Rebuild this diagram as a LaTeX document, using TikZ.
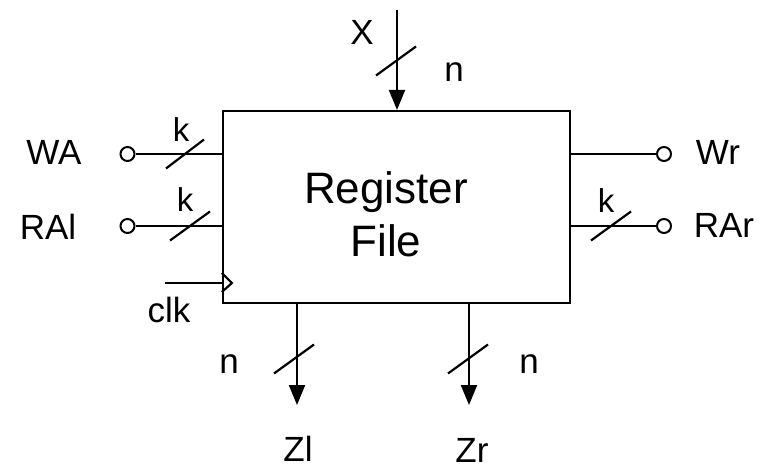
\documentclass[tikz,border=0pt]{standalone}
\usepackage{fontspec}
\setmainfont{Liberation Sans}
\usetikzlibrary{arrows.meta}
\begin{document}
\begin{tikzpicture}[x=1pt,y=-1pt,line width=2.2pt,
  lbl/.style={font=\fontsize{35}{40}\selectfont, inner sep=0pt, anchor=base},
  klbl/.style={font=\fontsize{33}{38}\selectfont, inner sep=0pt, anchor=base},
  big/.style={font=\fontsize{44}{53}\selectfont, inner sep=0pt, anchor=base},
  port/.style={circle, draw, minimum size=14pt, inner sep=0pt, line width=2pt},
  arr/.style={-{Triangle[length=20pt,width=16pt]}}]
\useasboundingbox (0,0) rectangle (764,468);
% box
\node[draw, minimum width=347pt, minimum height=192pt, inner sep=0pt] (rf) at (396.5,207) {};
\node[big] (t1) at (386,204) {Register};
\node[big] (t2) at (386,257) {File};
% left ports
\node[port] (wa) at (127.5,154) {};
\draw (wa) -- (wa -| rf.west);
\coordinate (s1) at (185,154);
\draw (s1) +(-19,14.5) -- +(19,-14.5);
\node[lbl] (lwa) at (54,165) {WA};
\node[klbl] (k1) at (181,142) {k};
\node[port] (ral) at (127.5,226) {};
\draw (ral) -- (ral -| rf.west);
\coordinate (s2) at (190,226);
\draw (s2) +(-20,14.5) -- +(20,-14.5);
\node[lbl] (lral) at (48,240) {RAl};
\node[klbl] (k2) at (185,212) {k};
% clock
\coordinate (clkin) at (165,283);
\coordinate (ck) at (rf.west |- clkin);
\draw (clkin) -- (ck);
\draw (ck) ++(0,-10) -- ++(10,10) -- ++(-10,9);
\node[lbl] (lclk) at (169,322) {clk};
% right ports
\node[port] (wr) at (664,154) {};
\draw (wr -| rf.east) -- (wr);
\node[lbl] (lwr) at (718,165) {Wr};
\node[port] (rar) at (664,226) {};
\draw (rar -| rf.east) -- (rar);
\coordinate (s3) at (611,226);
\draw (s3) +(-20,14.5) -- +(20,-14.5);
\node[lbl] (lrar) at (724,237) {RAr};
\node[klbl] (k3) at (606,213) {k};
% top input
\coordinate (xin) at (397,10);
\draw[arr] (xin) -- (xin |- rf.north);
\coordinate (s4) at (396,61);
\draw (s4) +(-20,14.5) -- +(20,-14.5);
\node[lbl] (lx) at (362,45) {X};
\node[lbl] (n1) at (454,82) {n};
% bottom outputs
\coordinate (zl) at (297,405);
\draw[arr] (zl |- rf.south) -- (zl);
\coordinate (s5) at (294,359);
\draw (s5) +(-20,14.5) -- +(20,-14.5);
\node[lbl] (n2) at (229,373) {n};
\node[lbl] (lzl) at (298,461) {Zl};
\coordinate (zr) at (469,405);
\draw[arr] (zr |- rf.south) -- (zr);
\coordinate (s6) at (468,359);
\draw (s6) +(-20,14.5) -- +(20,-14.5);
\node[lbl] (n3) at (529,373) {n};
\node[lbl] (lzr) at (472,462) {Zr};
\end{tikzpicture}
\end{document}
